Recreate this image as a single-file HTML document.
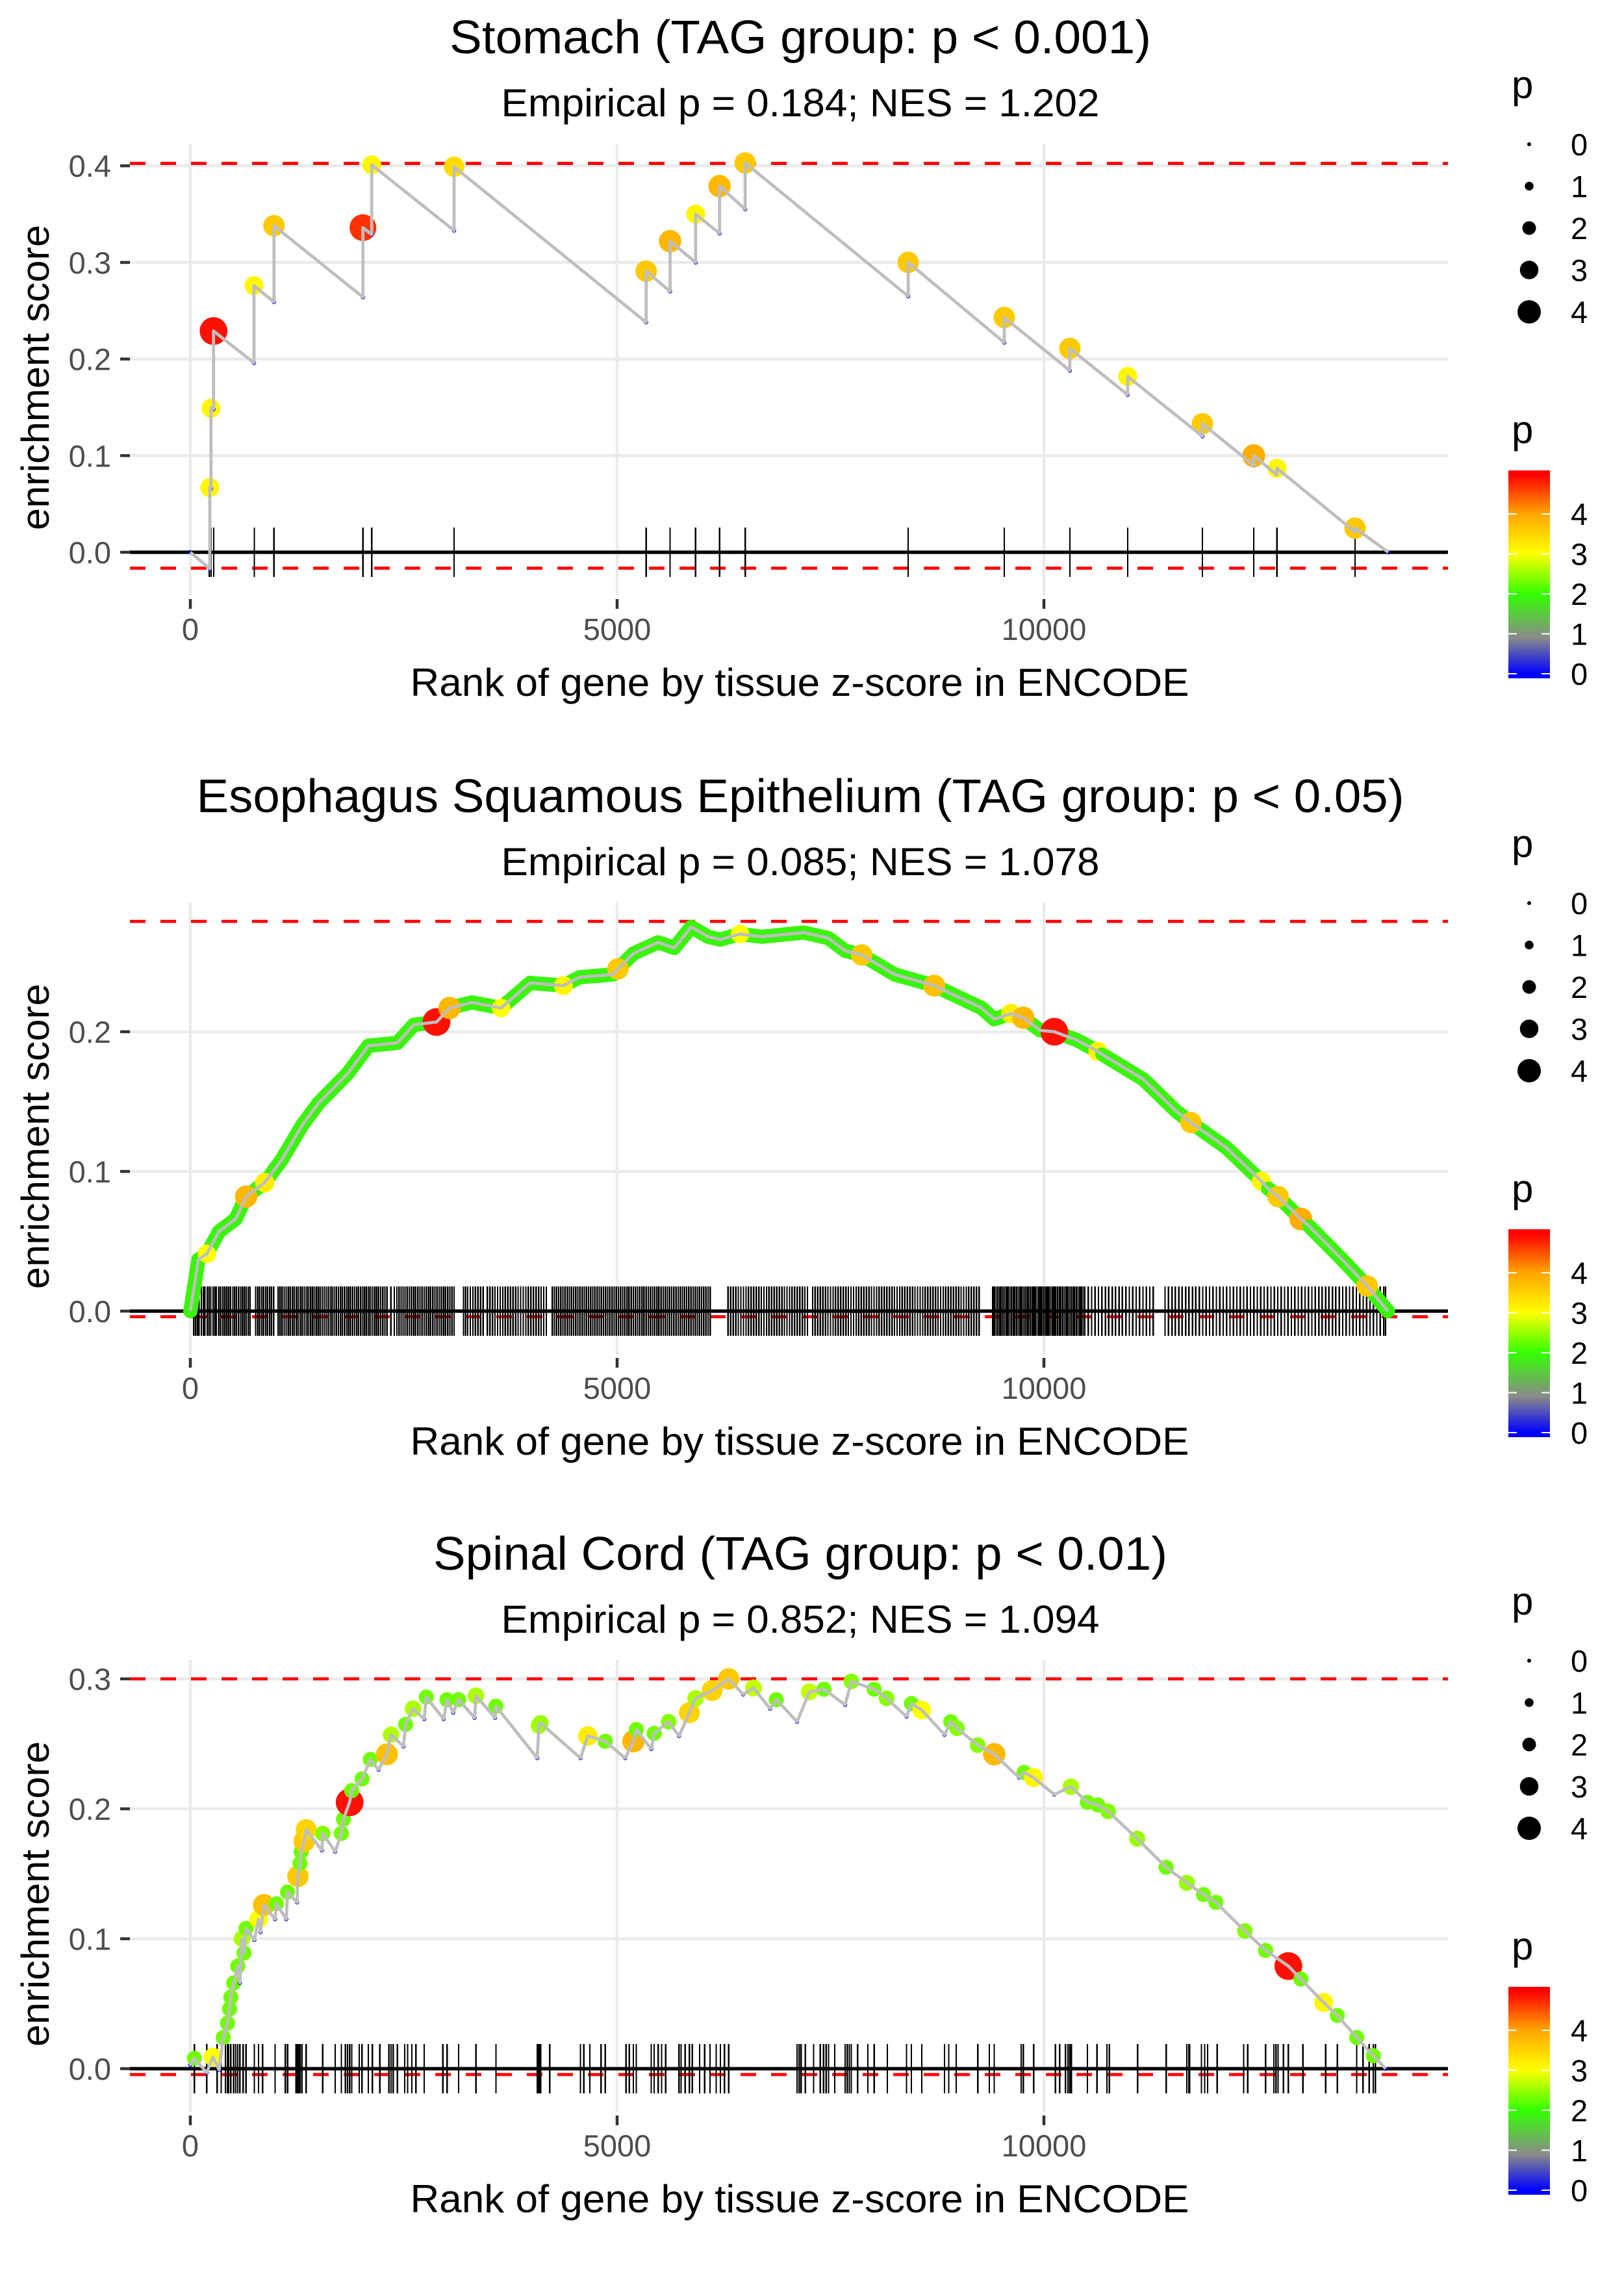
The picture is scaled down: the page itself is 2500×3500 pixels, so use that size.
<!DOCTYPE html>
<html><head><meta charset="utf-8"><title>Enrichment plots</title>
<style>
html,body{margin:0;padding:0;background:#fff;}
svg{display:block;font-family:"Liberation Sans",Arial,sans-serif;}
</style></head>
<body>
<svg id="chart" xmlns="http://www.w3.org/2000/svg" width="2500" height="3500" viewBox="0 0 2500 3500">
<defs>
<linearGradient id="cbar" x1="0" y1="0" x2="0" y2="1">
<stop offset="0" stop-color="#ff0000"/>
<stop offset="0.02" stop-color="#ff0000"/>
<stop offset="0.209" stop-color="#ffa500"/>
<stop offset="0.40" stop-color="#ffff00"/>
<stop offset="0.594" stop-color="#33ff00"/>
<stop offset="0.805" stop-color="#8a8a8a"/>
<stop offset="0.978" stop-color="#0000ff"/>
<stop offset="1" stop-color="#0000ff"/>
</linearGradient>
</defs>
<rect width="2500" height="3500" fill="#fff"/>

<g id="panel0">
<text x="1232" y="82" font-size="72" text-anchor="middle" textLength="1080" lengthAdjust="spacingAndGlyphs">Stomach (TAG group: p &lt; 0.001)</text>
<text x="1232" y="179" font-size="60" text-anchor="middle" textLength="921" lengthAdjust="spacingAndGlyphs">Empirical p = 0.184; NES = 1.202</text>
</g>
<g id="panel1" transform="translate(0,1168)">
<text x="1232" y="82" font-size="72" text-anchor="middle" textLength="1859" lengthAdjust="spacingAndGlyphs">Esophagus Squamous Epithelium (TAG group: p &lt; 0.05)</text>
<text x="1232" y="179" font-size="60" text-anchor="middle" textLength="921" lengthAdjust="spacingAndGlyphs">Empirical p = 0.085; NES = 1.078</text>
</g>
<g id="panel2" transform="translate(0,2334)">
<text x="1232" y="82" font-size="72" text-anchor="middle" textLength="1130" lengthAdjust="spacingAndGlyphs">Spinal Cord (TAG group: p &lt; 0.01)</text>
<text x="1232" y="179" font-size="60" text-anchor="middle" textLength="921" lengthAdjust="spacingAndGlyphs">Empirical p = 0.852; NES = 1.094</text>
</g>
</svg>

<script>
// ---------- shared axis data ----------
const xTicks = [0, 5000, 10000];
const xTickLabels = ["0", "5000", "10000"];
const sizeLegendValues = [0, 1, 2, 3, 4];
const colorLegendValues = [0, 1, 2, 3, 4];

// ---------- Stomach ----------
const s1Rank = [0, 228,228, 242,242, 272,272, 746,746, 980,980, 2022,2022, 2125,2125, 3090,3090, 5340,5340, 5620,5620, 5920,5920, 6200,6200, 6500,6500, 8410,8410, 9536,9536, 10304,10304, 10981,10981, 11857,11857, 12458,12458, 12730,12730, 13645,13645, 14035];
const s1Es = [0, -0.017,0.067, 0.066,0.149, 0.148,0.229, 0.196,0.276, 0.259,0.338, 0.264,0.336, 0.329,0.401, 0.333,0.399, 0.238,0.291, 0.270,0.322, 0.300,0.350, 0.330,0.379, 0.355,0.403, 0.265,0.300, 0.217,0.243, 0.188,0.211, 0.163,0.182, 0.120,0.133, 0.090,0.100, 0.080,0.087, 0.021,0.025, 0];
const s1P = [0, 0,3.1, 0,3.1, 0,4.9, 0,3.1, 0,3.6, 0,4.7, 0,3.1, 0,3.4, 0,3.6, 0,3.8, 0,3.1, 0,3.8, 0,3.6, 0,3.6, 0,3.6, 0,3.6, 0,3.1, 0,3.6, 0,3.9, 0,3.1, 0,3.6, 0];
const s1Rug = [222, 244, 274, 750, 980, 2022, 2125, 3090, 5340, 5620, 5920, 6200, 6500, 8410, 9536, 10304, 10981, 11857, 12458, 12730, 13645];
const s1YTicks = [0, 0.1, 0.2, 0.3, 0.4];
const s1YLabels = ["0.0", "0.1", "0.2", "0.3", "0.4"];
const s1Dash = [0.4025, -0.0165];

// ---------- Esophagus ----------
const s2Rank = [0,95,194,336,532,654,872,1066,1310,1503,1842,2086,2425,2618,2884,3037,3297,3640,3980,4370,4560,4950,5010,5190,5480,5670,5868,6066,6210,6440,6696,7186,7475,7671,7865,8253,8715,9269,9418,9612,9758,9955,10122,10388,10631,10677,11164,11552,11723,12138,12548,12622,12743,13010,13105,13493,13787,14030];
const s2Es = [0,0.037,0.041,0.057,0.066,0.082,0.092,0.108,0.133,0.149,0.170,0.190,0.192,0.205,0.207,0.217,0.221,0.217,0.235,0.233,0.239,0.241,0.245,0.256,0.264,0.260,0.275,0.268,0.266,0.270,0.268,0.271,0.267,0.258,0.255,0.241,0.233,0.217,0.209,0.213,0.210,0.201,0.200,0.194,0.186,0.184,0.166,0.143,0.135,0.117,0.093,0.088,0.082,0.066,0.061,0.037,0.018,0];
const s2P = [1.9,1.9,3.0,1.9,1.9,3.8,3.2,1.9,1.9,1.9,1.9,1.9,1.9,1.9,4.9,3.8,1.9,3.0,1.9,3.1,1.9,1.9,3.6,1.9,1.9,1.9,1.9,1.9,1.9,3.0,1.9,1.9,1.9,1.9,3.6,1.9,3.7,1.9,1.9,3.2,3.8,1.9,4.9,1.9,3.1,1.9,1.9,1.9,3.6,1.9,3.1,1.9,3.6,3.9,1.9,1.9,3.6,1.9];
const s2Rug = [40,62,85,101,130,152,170,199,221,240,268,290,305,333,356,380,402,425,447,470,498,520,540,566,590,611,633,655,680,700,
765,790,812,838,860,885,905,930,952,975,
1030,1052,1075,1100,1122,1148,1170,1195,1215,1240,1262,1288,1310,1335,1358,1380,1405,1428,1450,1475,1498,1520,1545,1568,1590,1615,1640,1662,1685,1710,1735,1758,1780,1805,1830,1852,1875,1900,1925,1948,1970,1995,2020,2042,2065,2090,2112,2135,2160,2182,2205,2230,2255,2280,2305,2350,2390,2420,2445,2470,2492,2515,2540,2565,2590,2615,2640,2665,2690,2715,2740,2765,2790,2815,2840,2865,2890,2915,2940,2965,2990,3015,3040,3065,3090,
3200,3225,3250,3280,3310,3340,3370,3400,3430,
3480,3510,3540,3570,3600,3630,3660,3690,3720,3750,3780,3810,3840,3870,3900,3930,3960,3990,4020,4050,4080,4110,4140,4170,
4240,4265,4290,4315,4340,4365,4390,4415,4440,4465,4490,4515,4540,4565,4590,4615,4640,4665,4690,4715,4740,4765,4790,4815,4840,4865,4890,4915,4940,4965,4990,5015,5040,5065,5090,5115,5140,5165,5190,5215,5240,5265,5290,5315,5340,5365,5390,5415,5440,5465,5490,5515,5540,5565,5590,5615,5640,5665,5690,5715,5740,5765,5790,5815,5840,5865,5890,5915,5940,5965,5990,6015,6040,6065,6090,
6300,6330,6360,6390,6420,6450,6480,6510,6540,6570,6600,6630,6660,6690,6720,6750,6780,6810,6840,6870,6900,6930,6960,6990,7020,7050,7080,7110,7140,7170,7200,7230,
7290,7320,7350,7380,7410,7440,7470,7500,7530,7560,7590,7620,7650,7680,7710,7740,7770,7800,7830,7860,7890,7920,7950,7980,8010,8040,8070,8100,8130,8160,8190,8220,8250,8280,8310,8340,8370,8400,8430,8460,8490,8520,8550,8580,8610,8640,8670,8700,8730,8760,8790,8820,8850,8880,8910,8940,8970,9000,9030,9060,9090,9120,9150,9180,9210,9240,
9400,9420,9440,9460,9480,9500,9520,9540,9560,9580,9600,9620,9640,9660,9680,9700,9720,9740,9760,9780,9800,9820,9840,9860,9880,9900,9920,9940,9960,9980,10000,10020,10040,10060,10080,10100,10120,10140,10160,10180,10200,10220,10240,10260,10280,10300,10320,10340,10360,10380,10400,10420,10440,10460,10480,
10520,10560,10600,10640,10680,10720,10760,10800,10840,10880,10920,10960,11000,11040,11080,11120,11160,11200,11240,11280,
11420,11460,11500,11540,11580,11620,11660,11700,11740,11780,11820,11860,11900,11940,11980,12020,12060,12100,12140,12180,12220,12260,12300,12340,12380,12420,12460,12500,12540,12580,12620,12660,12700,12740,12780,12820,12860,12900,12940,12980,13020,13060,13100,13140,13180,13220,13260,13300,13340,13380,13420,13460,13500,13540,13580,13620,13660,13700,13740,13780,13820,13860,13900,13940,13980,14000];
const s2YTicks = [0, 0.1, 0.2];
const s2YLabels = ["0.0", "0.1", "0.2"];
const s2Dash = [0.279, -0.004];

// ---------- Spinal cord ----------
const s3Rank = [0,47,192,265,338,386,435,459,474,508,556,580,605,629,653,750,799,823,862,993,1008,1124,1139,1250,1260,1284,1299,1333,1357,1541,1551,1697,1769,1794,1866,1891,2012,2109,2206,2303,2352,2497,2522,2609,2740,2764,2968,3007,3080,3143,3330,3347,3570,3580,4065,4084,4104,4570,4657,4861,5094,5191,5225,5400,5434,5603,5725,5846,5919,6113,6307,6477,6598,6792,6865,7108,7253,7423,7671,7744,8011,8157,8390,8448,8569,8836,8909,8982,9224,9418,9709,9768,9879,10122,10316,10510,10631,10753,11093,11432,11675,11869,12015,12354,12597,12864,13010,13277,13437,13665,13859,14004];
const s3Es = [0.003,0.008,-0.003,0.009,-0.001,0.024,0.035,0.046,0.055,0.066,0.079,0.066,0.100,0.089,0.108,0.099,0.115,0.105,0.126,0.115,0.127,0.115,0.136,0.128,0.148,0.158,0.167,0.175,0.184,0.168,0.181,0.167,0.181,0.192,0.205,0.214,0.223,0.238,0.230,0.242,0.257,0.248,0.265,0.277,0.269,0.286,0.269,0.284,0.274,0.284,0.270,0.287,0.270,0.279,0.239,0.264,0.266,0.239,0.256,0.252,0.239,0.252,0.261,0.246,0.258,0.267,0.256,0.274,0.285,0.291,0.300,0.288,0.293,0.277,0.284,0.267,0.290,0.292,0.280,0.298,0.292,0.285,0.271,0.281,0.276,0.257,0.267,0.262,0.249,0.242,0.224,0.228,0.224,0.211,0.217,0.205,0.203,0.198,0.177,0.155,0.143,0.134,0.128,0.106,0.091,0.079,0.069,0.051,0.041,0.024,0.010,0];
const s3P = [0,2.3,0,3.0,0,2.3,2.3,2.3,2.3,2.3,2.3,0,2.6,2.3,2.3,0,3.0,0,3.7,0,2.3,0,2.3,0,3.6,2.3,2.3,3.6,3.5,0,2.4,0,2.3,2.3,4.9,2.3,2.3,2.3,0,3.7,2.6,0,2.3,2.6,0,2.3,0,2.3,0,2.3,0,2.6,0,2.3,0,2.6,2.5,0,3.2,2.3,0,3.8,2.3,0,2.3,2.4,0,3.5,2.6,3.5,3.6,0,2.7,0,2.3,0,2.7,2.3,0,2.4,2.3,2.4,0,2.3,3.0,0,2.3,2.4,2.4,3.8,0,2.3,3.1,0,2.6,2.3,2.3,2.4,2.5,2.3,2.5,2.3,2.3,2.4,2.3,4.9,2.3,3.1,2.3,2.3,2.3,0];
const s3Rug = [47,192,314,362,411,435,449,474,508,532,556,580,619,653,750,799,847,993,1114,1139,1236,1250,1270,1284,1308,1357,1551,1697,1769,1818,1842,1866,1891,1978,2012,2085,2133,2221,2328,2352,2376,2425,2512,2546,2595,2643,2740,2958,3007,3143,3347,3580,4065,4084,4104,4211,4570,4609,4681,4812,4861,5104,5142,5191,5225,5400,5434,5482,5521,5569,5725,5749,5797,5846,5880,5967,6025,6088,6161,6210,6258,6307,7108,7132,7156,7205,7302,7380,7419,7448,7477,7550,7671,7696,7720,7744,7817,7938,8011,8166,8390,8448,8569,8836,8885,8972,9225,9360,9418,9734,9758,9879,10136,10185,10253,10282,10302,10321,10510,10622,10738,10767,11098,11432,11675,11699,11709,11845,11884,11918,12029,12340,12388,12597,12694,12718,12743,12806,12864,13034,13301,13437,13665,13738,13811,13859,13883];
const s3YTicks = [0, 0.1, 0.2, 0.3];
const s3YLabels = ["0.0", "0.1", "0.2", "0.3"];
const s3Dash = [0.300, -0.0045];

// ---------- helpers ----------
const NS = "http://www.w3.org/2000/svg";
function mk(parent, tag, attrs) {
  const el = document.createElementNS(NS, tag);
  for (const k in attrs) el.setAttribute(k, attrs[k]);
  parent.appendChild(el);
  return el;
}
const xScale = r => 293 + r * 0.1314;
const PLOT_L = 200, PLOT_R = 2229, PLOT_T = 221, PLOT_B = 917, Y0 = 850;
const colorStops = [[0,[0,0,255]],[0.9,[138,138,138]],[2,[51,255,0]],[3,[255,255,0]],[4,[255,165,0]],[5,[255,0,0]]];
function pColor(p) {
  if (p <= colorStops[0][0]) return "rgb(0,0,255)";
  for (let i = 1; i < colorStops.length; i++) {
    if (p <= colorStops[i][0]) {
      const a = colorStops[i-1], b = colorStops[i];
      const t = (p - a[0]) / (b[0] - a[0]);
      const c = a[1].map((v, j) => Math.round(v + (b[1][j] - v) * t));
      return "rgb(" + c.join(",") + ")";
    }
  }
  return "rgb(255,0,0)";
}
const pSize = p => 3 + 3.75 * p;

function drawPanel(g, idx, rank, es, pv, rug, yTicks, yLabels, dash, yk, band) {
  const yScale = v => Y0 - v * yk;
  yTicks.forEach(v => {
    const l = mk(g, "line", {x1: PLOT_L, x2: PLOT_R, y1: yScale(v), y2: yScale(v), stroke: "#ebebeb", "stroke-width": 4.5});
    
    
  });
  xTicks.forEach(v => {
    const l = mk(g, "line", {x1: xScale(v), x2: xScale(v), y1: PLOT_T, y2: PLOT_B, stroke: "#ebebeb", "stroke-width": 4.5});
    
    
  });
  yTicks.forEach((v, i) => {
    const t = mk(g, "line", {x1: 185, x2: 200, y1: yScale(v), y2: yScale(v), stroke: "#333", "stroke-width": 4.5});
    
    
    const tx = mk(g, "text", {x: 171, y: yScale(v) + 17, "font-size": 47, fill: "#4d4d4d", "text-anchor": "end"});
    tx.textContent = yLabels[i];
    
    
  });
  xTicks.forEach((v, i) => {
    const t = mk(g, "line", {x1: xScale(v), x2: xScale(v), y1: 922, y2: 937, stroke: "#333", "stroke-width": 4.5});
    
    
    const tx = mk(g, "text", {x: xScale(v), y: 985, "font-size": 47, fill: "#4d4d4d", "text-anchor": "middle"});
    tx.textContent = xTickLabels[i];
    
    
  });
  const xt = mk(g, "text", {x: 1231, y: 1071, "font-size": 60, "text-anchor": "middle", textLength: 1199, lengthAdjust: "spacingAndGlyphs"});
  xt.textContent = "Rank of gene by tissue z-score in ENCODE";
  
  
  const yt = mk(g, "text", {x: 0, y: 0, "font-size": 60, "text-anchor": "middle", transform: "translate(75,581) rotate(-90)", textLength: 470, lengthAdjust: "spacingAndGlyphs"});
  yt.textContent = "enrichment score";
  
  
  const z = mk(g, "line", {x1: PLOT_L, x2: PLOT_R, y1: yScale(0), y2: yScale(0), stroke: "#000", "stroke-width": 5.3});
  
  
  dash.forEach(v => {
    const d = mk(g, "line", {x1: PLOT_L, x2: PLOT_R, y1: yScale(v), y2: yScale(v), stroke: "#ff0000", "stroke-width": 4.8, "stroke-dasharray": "24 23"});
    
    
  });
  rug.forEach(r => {
    const l = mk(g, "line", {x1: xScale(r), x2: xScale(r), y1: yScale(0) - 38, y2: yScale(0) + 38, stroke: "#000", "stroke-width": 2.3, "shape-rendering": "crispEdges"});
    
    
  });
  const pts = rank.map((r, i) => xScale(r).toFixed(1) + "," + yScale(es[i]).toFixed(1)).join(" ");
  if (band) {
    const b = mk(g, "polyline", {points: pts, fill: "none", stroke: pColor(1.9), "stroke-width": 22, "stroke-linejoin": "round", "stroke-linecap": "round"});
    
    
  }
  rank.forEach((r, i) => {
    const p = pv[i];
    let c;
    if (p < 0.5) {
      c = mk(g, "circle", {cx: xScale(r), cy: yScale(es[i]), r: 2.5, fill: "none", stroke: "#0000ff", "stroke-width": 1.5});
    } else {
      c = mk(g, "circle", {cx: xScale(r), cy: yScale(es[i]), r: pSize(p), fill: pColor(p)});
    }
    
    
  });
  const ln = mk(g, "polyline", {points: pts, fill: "none", stroke: "#bebebe", "stroke-width": 4.8, "stroke-linejoin": "round"});
  
  

  const st = mk(g, "text", {x: 2327, y: 151, "font-size": 60});
  st.textContent = "p";
  
  
  sizeLegendValues.forEach((v, i) => {
    const cy = 222 + i * 64.5;
    const d = mk(g, "circle", {cx: 2354, cy: cy, r: pSize(v), fill: "#000"});
    
    
    const t = mk(g, "text", {x: 2418, y: cy + 17, "font-size": 47});
    t.textContent = String(v);
    
    
  });
  const ct = mk(g, "text", {x: 2327, y: 682, "font-size": 60});
  ct.textContent = "p";
  
  
  const bar = mk(g, "rect", {x: 2322, y: 724, width: 64, height: 320, fill: "url(#cbar)"});
  
  
  colorLegendValues.forEach(v => {
    const y = 1037 - v * 61.5;
    const t1 = mk(g, "line", {x1: 2322, x2: 2335, y1: y, y2: y, stroke: "#fff", "stroke-width": 2});
    
    
    const t2 = mk(g, "line", {x1: 2373, x2: 2386, y1: y, y2: y, stroke: "#fff", "stroke-width": 2});
    
    
    const t = mk(g, "text", {x: 2418, y: y + 17, "font-size": 47});
    t.textContent = String(v);
    
    
  });
}

drawPanel(document.getElementById("panel0"), 0, s1Rank, s1Es, s1P, s1Rug, s1YTicks, s1YLabels, s1Dash, 1487, false);
drawPanel(document.getElementById("panel1"), 1, s2Rank, s2Es, s2P, s2Rug, s2YTicks, s2YLabels, s2Dash, 2150, true);
drawPanel(document.getElementById("panel2"), 2, s3Rank, s3Es, s3P, s3Rug, s3YTicks, s3YLabels, s3Dash, 2000, false);
</script>
</body></html>
